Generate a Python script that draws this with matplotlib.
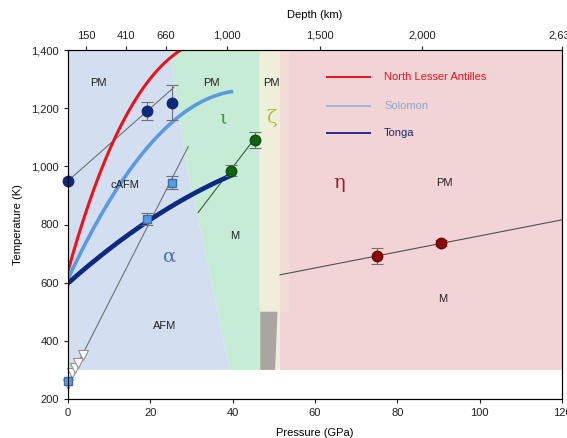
import matplotlib
matplotlib.use("Agg")
import matplotlib.pyplot as plt
import numpy as np

plt.rcParams["font.family"] = ["Liberation Sans", "DejaVu Sans"]

# phase-region boundaries (pressure GPa, temperature K)
alpha_edge_p = [24.8, 28.4, 31.3, 39.3]
alpha_edge_t = [1400, 1032, 840, 300]
iota_right = 46.6
zeta_right = 51.6
blend_right = 53.9
p_max = 120
t_floor = 300
gray_p = [46.7, 50.9, 50.3, 46.7]
gray_t = [500, 500, 300, 300]

# geotherms
antilles_p = [0, 3.7, 10.6, 15.9, 21.5, 27.2, 30.0]
antilles_t = [635, 827, 1056, 1228, 1331, 1389, 1425]
solomon_p = [0, 7.8, 14.2, 20.7, 28.8, 39.7]
solomon_t = [615, 827, 965, 1091, 1194, 1255]
tonga_p = [0, 10.2, 19.8, 28.8, 39.3]
tonga_t = [600, 713, 816, 896, 965]

# measurements (error 0 = no bar)
navy_p = [0, 19.2, 25.2]
navy_t = [950, 1190, 1219]
navy_err = [0, 30, 60]
navy_fit_p = [0, 25.7]
navy_fit_t = [950, 1271]

sq_p = [0, 19.3, 25.2]
sq_t = [263, 820, 944]
sq_err = [0, 20, 22]
sq_fit_p = [0, 29.2]
sq_fit_t = [255, 1068]

tri_p = [0, 1.0, 1.8, 2.4, 3.7]
tri_t = [250, 290, 308, 325, 350]

green_p = [39.5, 45.4]
green_t = [985, 1091]
green_err = [18, 27]
green_fit_p = [31.6, 45.8]
green_fit_t = [841, 1104]

red_p = [75.1, 90.7]
red_t = [692, 736]
red_err = [27, 10]
red_fit_p = [51.5, 120]
red_fit_t = [627, 816]

depth_labels = ["150", "410", "660", "1,000", "1,500", "2,000", "2,630"]
depth_pressure = [4.4, 14.0, 23.8, 38.6, 61.3, 86.0, 120.0]

fig = plt.figure(figsize=(5.67, 4.38), dpi=100)
ax = fig.add_axes([68 / 567, 39 / 438, 494 / 567, 349 / 438])

# shaded regions
ax.fill([0] + alpha_edge_p + [0], [1400] + alpha_edge_t + [t_floor],
        color="#d3dff0", lw=0, zorder=0)
ax.fill(alpha_edge_p + [iota_right, iota_right],
        alpha_edge_t + [t_floor, 1400], color="#c7ecd6", lw=0, zorder=0)
ax.fill_between([iota_right, zeta_right], t_floor, 1400, color="#eeeedb", lw=0, zorder=0)
ax.fill_between([zeta_right, blend_right], t_floor, 1400, color="#f2dcd6", lw=0, zorder=0)
ax.fill_between([blend_right, p_max], t_floor, 1400, color="#f3d4d6", lw=0, zorder=0)
ax.fill_between([zeta_right, blend_right], t_floor, 500, color="#f3d4d6", lw=0, zorder=0)
ax.fill(gray_p, gray_t, color="#aaa5a2", lw=0, zorder=1)

# fit lines
fit_kw = dict(color="#707070", lw=0.8, zorder=2)
ax.plot(navy_fit_p, navy_fit_t, **fit_kw)
ax.plot(sq_fit_p, sq_fit_t, **fit_kw)
ax.plot(green_fit_p, green_fit_t, color="#3d5a3d", lw=0.8, zorder=2)
ax.plot(red_fit_p, red_fit_t, color="#505050", lw=0.8, zorder=2)

# geotherms
def smooth(p, t, deg=3):
    pp = np.linspace(p[0], p[-1], 200)
    c = np.polyfit(p, t, deg)
    return pp, np.polyval(c, pp)

ax.plot(*smooth(antilles_p, antilles_t), color="#e8141c", lw=2.2, zorder=3)
ax.plot(*smooth(solomon_p, solomon_t, 2), color="#5b9ae0", lw=2.6, zorder=3)
ax.plot(*smooth(tonga_p, tonga_t, 2), color="#0b2a80", lw=3.4, zorder=3)

# markers with error bars where given
def points(p, t, err, z, **mk):
    p, t, err = map(np.asarray, (p, t, err))
    has = err > 0
    ax.errorbar(p[has], t[has], yerr=err[has], fmt="none", ecolor="#707070",
                elinewidth=0.8, capsize=4, capthick=0.8, zorder=z)
    ax.plot(p, t, ls="none", zorder=z + 0.1, clip_on=False, **mk)

ax.plot(tri_p, tri_t, ls="none", marker="v", ms=7, mfc="white", mec="#909090",
        mew=0.8, zorder=5, clip_on=False)
points(navy_p, navy_t, navy_err, 4, marker="o", ms=7.5, mfc="#0d2a7a", mec="#0d2a7a")
points(sq_p, sq_t, sq_err, 6, marker="s", ms=6, mfc="#5b9ad8", mec="#3a6fb0")
points(green_p, green_t, green_err, 4, marker="o", ms=7.5, mfc="#146214", mec="#0d4a0d")
points(red_p, red_t, red_err, 4, marker="o", ms=7.5, mfc="#8c0a0a", mec="#6a0505")

# region labels
lab_kw = dict(fontsize=8, ha="center", va="center", color="#202020", zorder=7)
ax.text(7.3, 1286, "PM", **lab_kw)
ax.text(34.9, 1286, "PM", **lab_kw)
ax.text(49.4, 1286, "PM", **lab_kw)
ax.text(91.5, 942, "PM", **lab_kw)
ax.text(13.8, 936, "cAFM", **lab_kw)
ax.text(23.5, 452, "AFM", **lab_kw)
ax.text(40.5, 762, "M", **lab_kw)
ax.text(91.1, 544, "M", **lab_kw)
greek_kw = dict(fontsize=14, ha="center", va="center", family="DejaVu Serif", zorder=7)
ax.text(24.8, 690, "α", color="#4a72b8", **greek_kw)
ax.text(37.7, 1165, "ι", color="#3a9a3a", **greek_kw)
ax.text(49.4, 1165, "ζ", color="#a6c43c", **greek_kw)
ax.text(65.9, 942, "η", color="#a01c2c", **greek_kw)

# legend drawn by hand
legend_names = ["North Lesser Antilles", "Solomon", "Tonga"]
legend_lines = ["#e8141c", "#9fb6dc", "#2a2a8a"]
legend_text = ["#e8141c", "#8ea6cc", "#1a2a6a"]
legend_t = [1307, 1207, 1113]
for name, lc, tc, t in zip(legend_names, legend_lines, legend_text, legend_t):
    ax.plot([62.9, 73.4], [t, t], color=lc, lw=1.4, zorder=7)
    ax.text(76.8, t, name, color=tc, fontsize=8, va="center", zorder=7)

ax.set_xlim(0, 120)
ax.set_ylim(200, 1400)
ax.set_xticks([0, 20, 40, 60, 80, 100, 120])
ax.set_yticks(range(200, 1401, 200))
ax.set_yticklabels([f"{v:,}" for v in range(200, 1401, 200)])
ax.tick_params(labelsize=8, length=3, width=0.8, colors="#202020")
ax.set_xlabel("Pressure (GPa)", fontsize=8, labelpad=7)
ax.set_ylabel("Temperature (K)", fontsize=8, labelpad=6)
for s in ax.spines.values():
    s.set_linewidth(0.8)
    s.set_color("#303030")

top = ax.twiny()
top.set_xlim(ax.get_xlim())
top.set_xticks(depth_pressure)
top.set_xticklabels(depth_labels)
top.tick_params(labelsize=8, length=3, width=0.8, colors="#202020")
top.set_xlabel("Depth (km)", fontsize=8, labelpad=9)

fig.savefig("out.png", dpi=100)
